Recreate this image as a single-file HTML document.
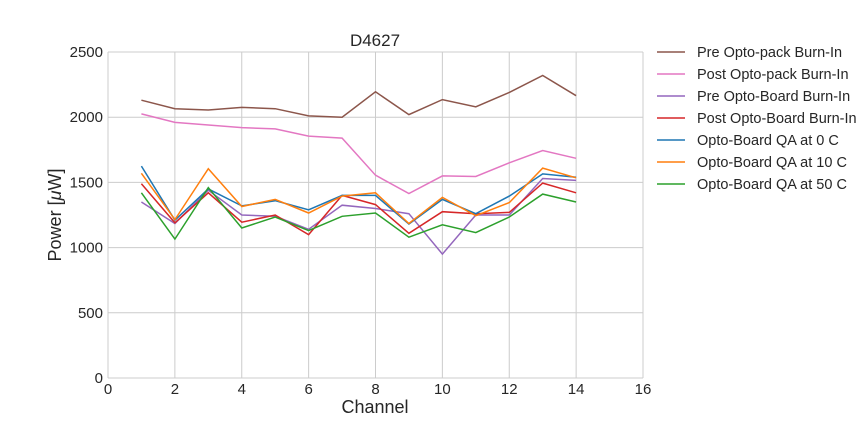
<!DOCTYPE html>
<html><head><meta charset="utf-8"><style>
html,body{margin:0;padding:0;background:#fff;}
svg{display:block;font-family:"Liberation Sans",Arial,sans-serif;}
</style></head><body>
<svg id="c" width="864" height="432" xmlns="http://www.w3.org/2000/svg">
<rect width="864" height="432" fill="#fff"/>
<g id="grid"></g>
<g id="lines"></g>
<text x="375" y="46" font-size="17" text-anchor="middle" fill="#262626">D4627</text>
<text x="375" y="413" font-size="18" text-anchor="middle" fill="#262626">Channel</text>
<text transform="translate(61,215) rotate(-90)" font-size="18" text-anchor="middle" fill="#262626">Power [<tspan font-style="italic">μ</tspan>W]</text>
<g id="leg"></g>
</svg>
<script>
var L=108,R=643,T=52,B=378,ns="http://www.w3.org/2000/svg";
function X(v){return L+(R-L)*v/16}function Y(v){return B-(B-T)*v/2500}
function el(t,a,p,txt){var e=document.createElementNS(ns,t);for(var k in a)e.setAttribute(k,a[k]);if(txt!==undefined)e.textContent=txt;document.getElementById(p).appendChild(e);return e;}
for(var i=0;i<=16;i+=2){el("line",{x1:X(i),x2:X(i),y1:T,y2:B,stroke:"#cccccc","stroke-width":1},"grid");el("text",{x:X(i),y:B+16,"font-size":15,"text-anchor":"middle",fill:"#262626"},"grid",i);}
for(var j=0;j<=2500;j+=500){el("line",{x1:L,x2:R,y1:Y(j),y2:Y(j),stroke:"#cccccc","stroke-width":1},"grid");el("text",{x:L-5,y:Y(j)+5,"font-size":15,"text-anchor":"end",fill:"#262626"},"grid",j);}
var S=[
["Pre Opto-pack Burn-In","#8c564b",[2130,2065,2055,2075,2065,2010,2000,2195,2020,2135,2080,2190,2320,2165]],
["Post Opto-pack Burn-In","#e377c2",[2025,1960,1940,1920,1910,1855,1840,1555,1415,1550,1545,1650,1745,1685]],
["Pre Opto-Board Burn-In","#9467bd",[1350,1185,1440,1250,1240,1140,1325,1300,1260,950,1250,1250,1530,1515]],
["Post Opto-Board Burn-In","#d62728",[1490,1190,1420,1195,1250,1100,1400,1330,1110,1275,1260,1270,1495,1420]],
["Opto-Board QA at 0 C","#1f77b4",[1625,1210,1450,1320,1360,1290,1400,1400,1180,1370,1260,1395,1565,1540]],
["Opto-Board QA at 10 C","#ff7f0e",[1570,1215,1605,1315,1370,1265,1395,1420,1185,1385,1245,1345,1610,1535]],
["Opto-Board QA at 50 C","#2ca02c",[1420,1065,1460,1150,1235,1130,1240,1265,1080,1175,1115,1235,1410,1350]]];
S.forEach(function(s,k){var p=s[2].map(function(v,i){return X(i+1).toFixed(1)+","+Y(v).toFixed(1)}).join(" ");
el("polyline",{points:p,fill:"none",stroke:s[1],"stroke-width":1.5},"lines");
var y=52+k*22;el("line",{x1:657,x2:685,y1:y,y2:y,stroke:s[1],"stroke-width":1.5},"leg");
el("text",{x:697,y:y+5,"font-size":14.5,fill:"#262626"},"leg",s[0]);});
</script>
</body></html>
